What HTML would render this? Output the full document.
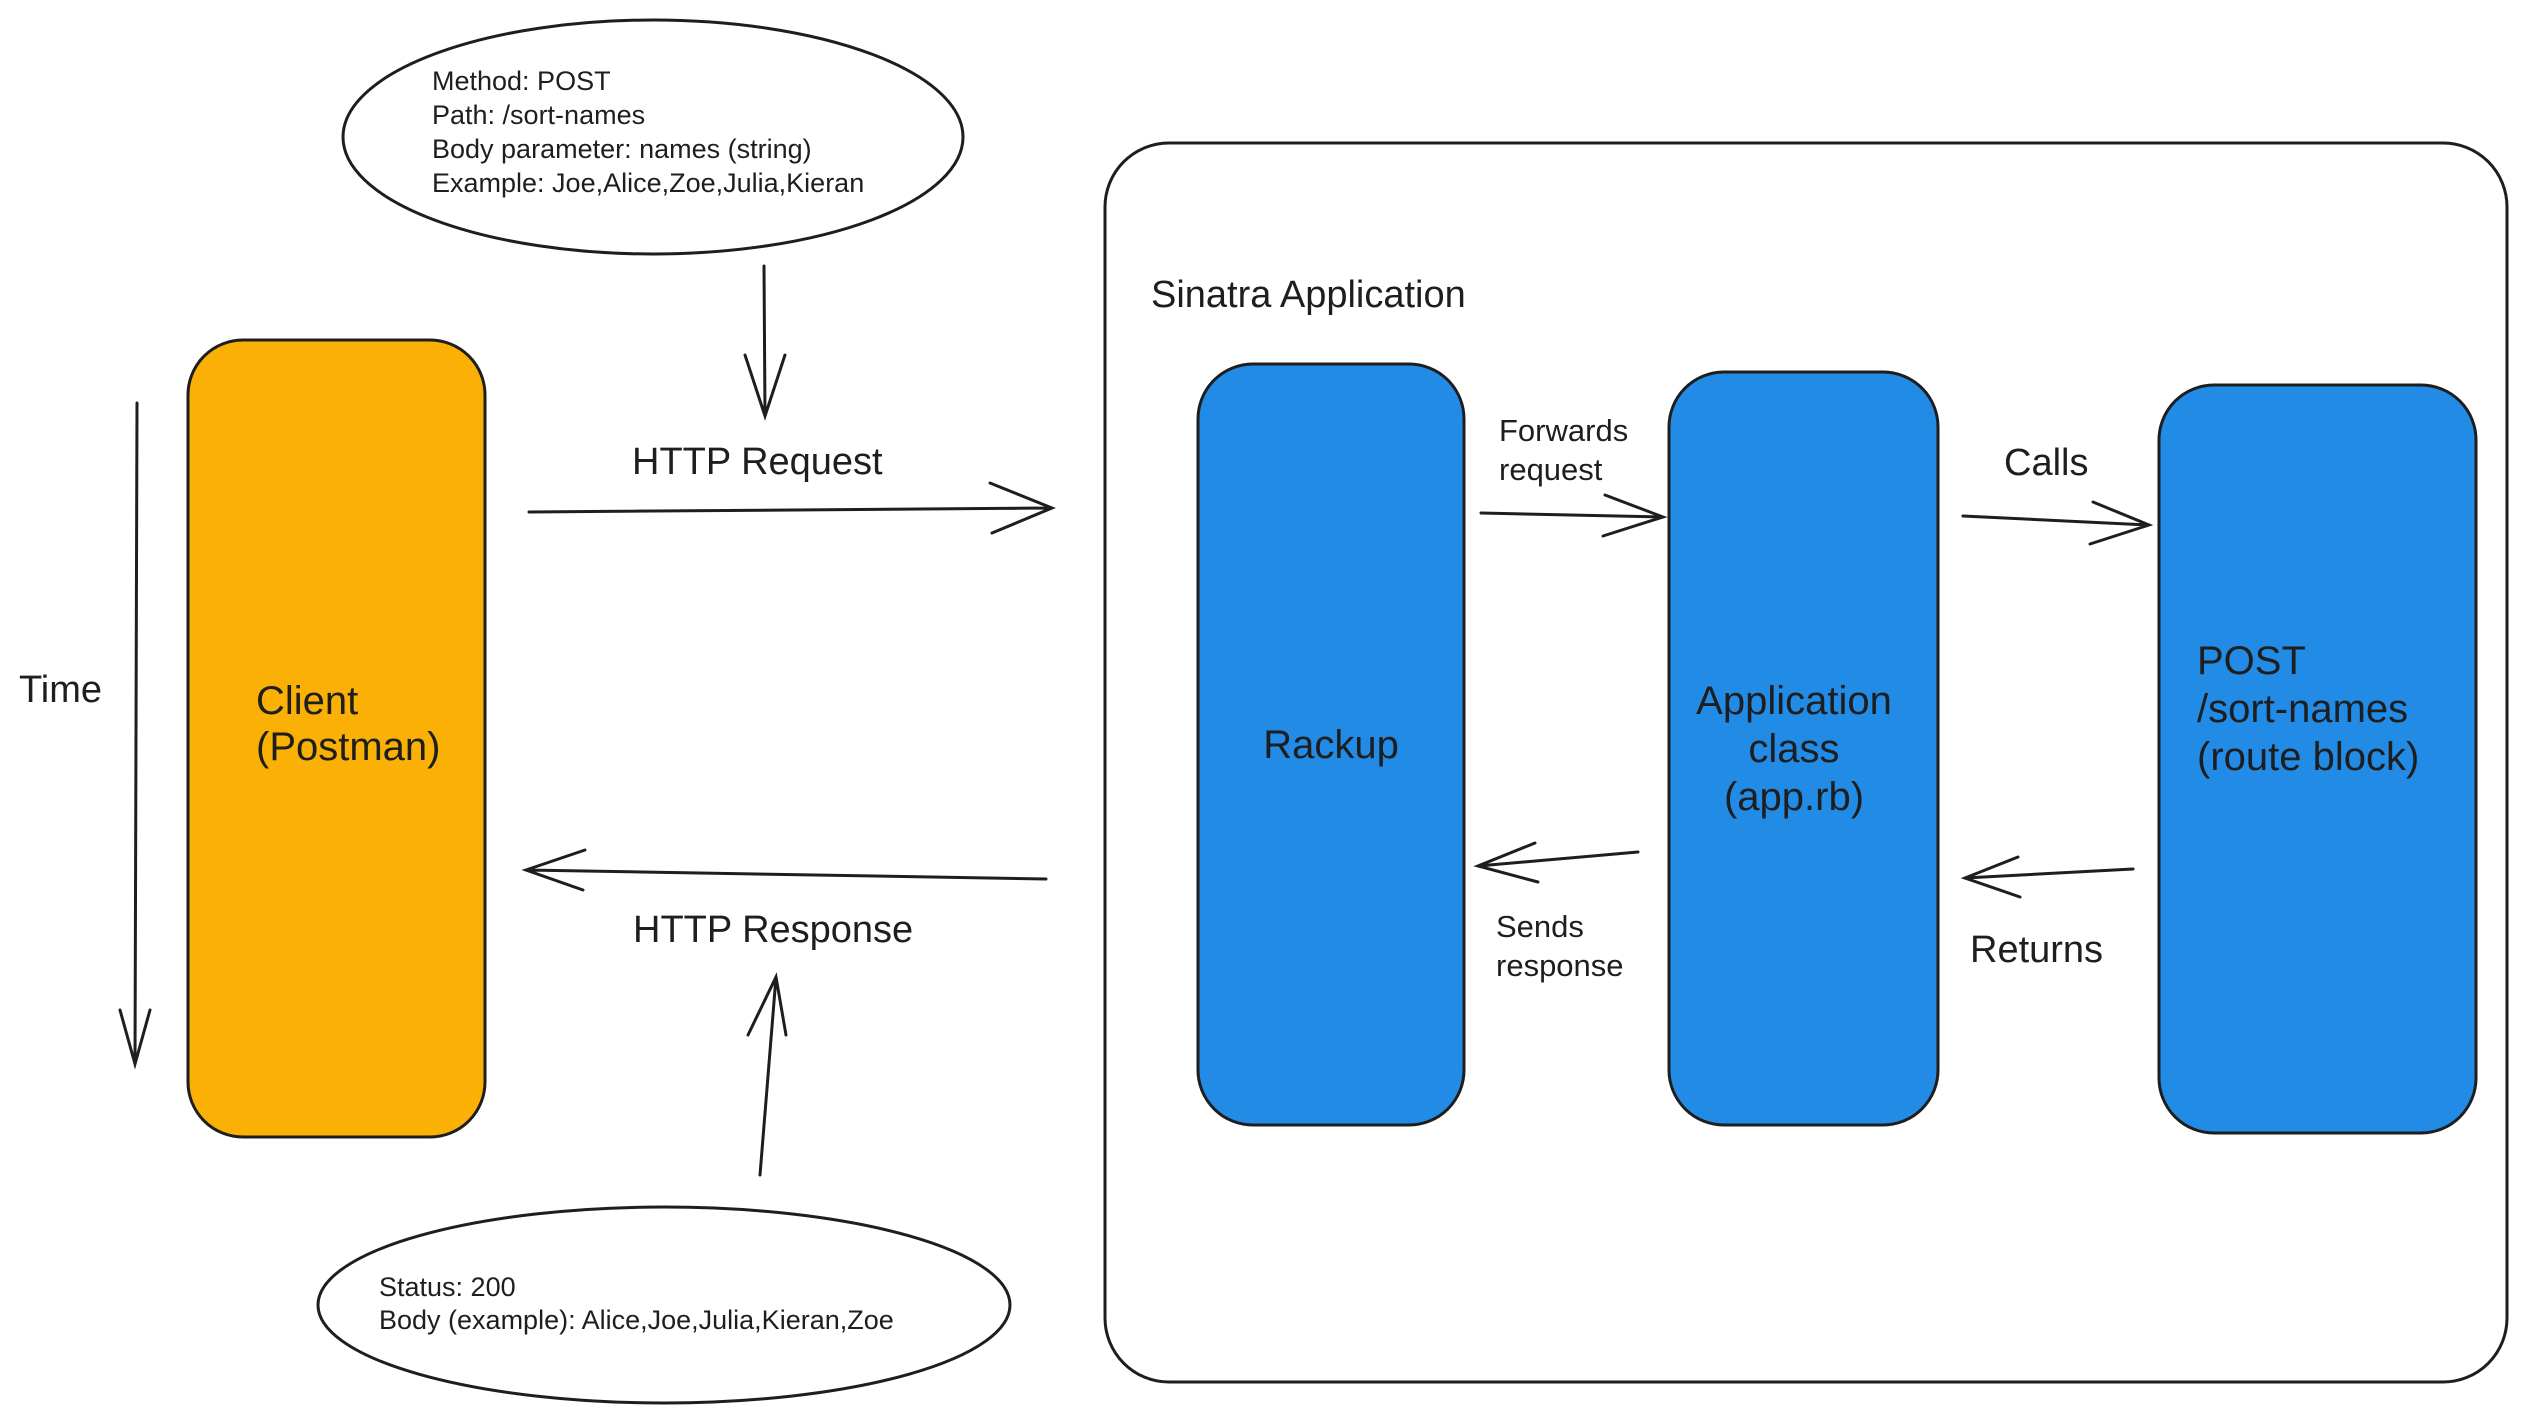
<!DOCTYPE html>
<html><head><meta charset="utf-8"><style>
html,body{margin:0;padding:0;background:#fff;}
svg{display:block}
text{font-family:"Liberation Sans",sans-serif;fill:#1e1e1e}
</style></head><body>
<svg width="2528" height="1422" viewBox="0 0 2528 1422" xmlns="http://www.w3.org/2000/svg">
<g fill="none" stroke="#1e1e1e" stroke-width="3" stroke-linecap="round">
<!-- top ellipse -->
<ellipse cx="653" cy="137" rx="310" ry="117"/>
<!-- bottom ellipse -->
<ellipse cx="664" cy="1305" rx="346" ry="98"/>
<!-- container -->
<rect x="1105" y="143" width="1402" height="1239" rx="64"/>
<!-- time arrow -->
<path d="M137 403 L135 1064 M120 1010 L135 1064 L150 1010"/>
<!-- down arrow from ellipse -->
<path d="M764 266 L765 416 M745 355 L765 416 L785 355"/>
<!-- http request arrow -->
<path d="M529 512 L1050 508 M990 483 L1052 508 L992 533"/>
<!-- http response arrow -->
<path d="M1046 879 L526 870 M585 850 L526 870 L583 890"/>
<!-- up arrow -->
<path d="M760 1175 L776 977 M748 1035 L776 977 L786 1035"/>
<!-- forwards -->
<path d="M1481 513 L1661 517 M1605 495 L1663 517 L1603 536"/>
<!-- sends -->
<path d="M1638 852 L1478 866 M1535 843 L1478 866 L1538 882"/>
<!-- calls -->
<path d="M1963 516 L2148 525 M2093 502 L2149 525 L2090 544"/>
<!-- returns -->
<path d="M2133 869 L1965 878 M2018 857 L1965 878 L2020 897"/>
</g>
<!-- boxes -->
<g stroke="#1e1e1e" stroke-width="3">
<rect x="188" y="340" width="297" height="797" rx="55" fill="#fab005"/>
<rect x="1198" y="364" width="266" height="761" rx="55" fill="#228be6"/>
<rect x="1669" y="372" width="269" height="753" rx="55" fill="#228be6"/>
<rect x="2159" y="385" width="317" height="748" rx="55" fill="#228be6"/>
</g>
<g font-size="27">
<text x="432" y="90">Method: POST</text>
<text x="432" y="124">Path: /sort-names</text>
<text x="432" y="158">Body parameter: names (string)</text>
<text x="432" y="192">Example: Joe,Alice,Zoe,Julia,Kieran</text>
<text x="379" y="1296">Status: 200</text>
<text x="379" y="1329">Body (example): Alice,Joe,Julia,Kieran,Zoe</text>
</g>
<g font-size="38">
<text x="19" y="702">Time</text>
<text x="632" y="474">HTTP Request</text>
<text x="633" y="942">HTTP Response</text>
<text x="1151" y="307">Sinatra Application</text>
<text x="2004" y="475">Calls</text>
<text x="1970" y="962">Returns</text>
</g>
<g font-size="31">
<text x="1499" y="441">Forwards</text>
<text x="1499" y="480">request</text>
<text x="1496" y="937">Sends</text>
<text x="1496" y="976">response</text>
</g>
<g font-size="40">
<text x="256" y="714">Client</text>
<text x="256" y="760">(Postman)</text>
<text x="1331" y="758" text-anchor="middle">Rackup</text>
<text x="1794" y="714" text-anchor="middle">Application</text>
<text x="1794" y="762" text-anchor="middle">class</text>
<text x="1794" y="810" text-anchor="middle">(app.rb)</text>
<text x="2197" y="674">POST</text>
<text x="2197" y="722">/sort-names</text>
<text x="2197" y="770">(route block)</text>
</g>
</svg>
</body></html>
